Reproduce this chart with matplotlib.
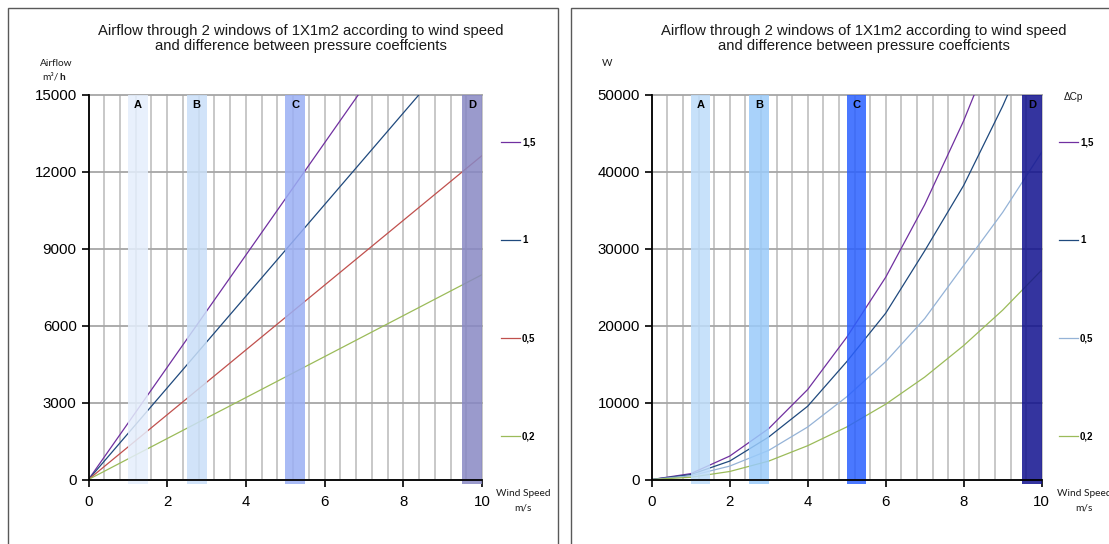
import numpy as np
import matplotlib.pyplot as plt
from matplotlib.patches import Rectangle

plt.rcParams['font.family'] = ['Liberation Sans', 'DejaVu Sans']

# data
speed = [0, 1, 2, 3, 4, 5, 6, 7, 8, 9, 10]
dcp_labels = ['1,5', '1', '0,5', '0,2']

# airflow m3/h
airflow_15 = [0, 2186, 4372, 6558, 8744, 10930, 13116, 15302, 17488, 19674, 21860]
airflow_10 = [0, 1785, 3570, 5355, 7140, 8925, 10710, 12495, 14280, 16065, 17850]
airflow_05 = [0, 1262, 2524, 3786, 5048, 6310, 7572, 8834, 10096, 11358, 12620]
airflow_02 = [0, 798, 1596, 2394, 3192, 3990, 4788, 5586, 6384, 7182, 7980]

# power W
power_15 = [0, 760, 3040, 6610, 11690, 18470, 26270, 35700, 46600, 59100, 73000]
power_10 = [0, 640, 2390, 5520, 9520, 15300, 21600, 29700, 38200, 48500, 60000]
power_05 = [0, 480, 1740, 3780, 6820, 10740, 15300, 20900, 27800, 34700, 42500]
power_02 = [0, 290, 1040, 2390, 4390, 6820, 9780, 13300, 17400, 22000, 27200]

band_start = [1.0, 2.5, 5.0, 9.5]
band_end = [1.5, 3.0, 5.5, 10.0]
band_names = ['A', 'B', 'C', 'D']

title = ('Airflow through 2 windows of 1X1m2 according to wind speed\n'
         'and difference between pressure coeffcients')

W, H = 1109, 544
fig = plt.figure(figsize=(W / 100, H / 100), dpi=100)

# panel frames
fig.add_artist(Rectangle((8 / W, -0.05), 550 / W, 1.05 - 7.5 / H, transform=fig.transFigure,
                         fill=False, ec='#595959', lw=1))
fig.add_artist(Rectangle((571 / W, -0.05), 0.5, 1.05 - 7.5 / H, transform=fig.transFigure,
                         fill=False, ec='#595959', lw=1))

ax1 = fig.add_axes([88.5 / W, (H - 479.5) / H, 393.5 / W, 385 / H])
ax2 = fig.add_axes([651.7 / W, (H - 479.5) / H, 390 / W, 385 / H])


def setup(ax, ymax, ystep):
    ax.set_xlim(0, 10)
    ax.set_ylim(0, ymax)
    ax.set_xticks(range(0, 11, 2))
    ax.set_xticks(np.arange(0, 10.01, 0.4), minor=True)
    ax.set_yticks(np.arange(0, ymax + 1, ystep))
    ax.grid(axis='y', which='major', color='#a6a6a6', lw=1.3)
    ax.grid(axis='x', which='both', color='#c4c4c4', lw=1.3)
    for gl in ax.get_xgridlines() + ax.get_ygridlines():
        gl.set_clip_on(False)
    for s in ['top', 'right']:
        ax.spines[s].set_visible(False)
    for s in ['left', 'bottom']:
        ax.spines[s].set_linewidth(1.3)
        ax.spines[s].set_zorder(6)
    ax.tick_params(which='major', direction='out', length=5, width=1.2, labelsize=10.8,
                   colors='black')
    ax.tick_params(which='minor', length=0)
    ax.tick_params(axis='x', pad=6)


def bands(ax, ymax, colors):
    for s, e, n, c in zip(band_start, band_end, band_names, colors):
        ax.add_patch(Rectangle((s, -0.012 * ymax), e - s, 1.012 * ymax, facecolor=c,
                               alpha=0.85, lw=0, zorder=4, clip_on=False))
        ax.text((s + e) / 2, ymax * 0.985, n, ha='center', va='top', fontsize=8,
                fontweight='bold', zorder=5)


def legend(ax, x_px):
    ax.legend(loc='upper left', bbox_to_anchor=(x_px / W, 1 - 137.5 / H),
              bbox_transform=fig.transFigure, frameon=False,
              prop={'weight': 'bold', 'size': 7}, labelspacing=9.05, handlelength=2.0,
              handletextpad=0.15, borderpad=0, borderaxespad=0)


# left chart: airflow
setup(ax1, 15000, 3000)
left_colors = ['#7030a0', '#1f497d', '#c0504d', '#9bbb59']
for vals, lab, c in zip([airflow_15, airflow_10, airflow_05, airflow_02], dcp_labels, left_colors):
    ax1.plot(speed, vals, color=c, lw=0.9, label=lab, zorder=3)
bands(ax1, 15000, ['#e4eefc', '#c9dff8', '#9aaff4', '#8888c4'])
legend(ax1, 501)

# right chart: power
setup(ax2, 50000, 10000)
right_colors = ['#7030a0', '#1f497d', '#95b3d7', '#9bbb59']
for vals, lab, c in zip([power_15, power_10, power_05, power_02], dcp_labels, right_colors):
    ax2.plot(speed, vals, color=c, lw=0.9, label=lab, zorder=3)
bands(ax2, 50000, ['#bedcfa', '#9acbfa', '#2a60ff', '#10108e'])
legend(ax2, 1059)

# titles and axis captions
fig.text(301 / W, 1 - 38.5 / H, title, ha='center', va='center', fontsize=10.7,
         color='#1a1a1a', linespacing=1.15)
fig.text(864 / W, 1 - 38.5 / H, title, ha='center', va='center', fontsize=10.7,
         color='#1a1a1a', linespacing=1.15)

small = dict(family=['Lato', 'DejaVu Sans'], fontsize=7.3, color='#1a1a1a')
fig.text(56 / W, 1 - 63 / H, 'Airflow', ha='center', va='center', **small)
fig.text(59 / W, 1 - 77 / H, 'm³/', ha='right', va='center', **small)
fig.text(59 / W, 1 - 77 / H, 'h', ha='left', va='center', fontweight='bold', **small)
fig.text(523 / W, 1 - 493 / H, 'Wind Speed', ha='center', va='center', **small)
fig.text(523 / W, 1 - 508 / H, 'm/s', ha='center', va='center', **small)

fig.text(607 / W, 1 - 64 / H, 'W', ha='center', va='center', **small)
fig.text(1073 / W, 1 - 97 / H, 'ΔCp', ha='center', va='center', family=['Liberation Sans', 'DejaVu Sans'],
         fontsize=7.3, color='#1a1a1a')
fig.text(1084 / W, 1 - 493 / H, 'Wind Speed', ha='center', va='center', **small)
fig.text(1084 / W, 1 - 508 / H, 'm/s', ha='center', va='center', **small)

fig.savefig('out.png', dpi=100)
